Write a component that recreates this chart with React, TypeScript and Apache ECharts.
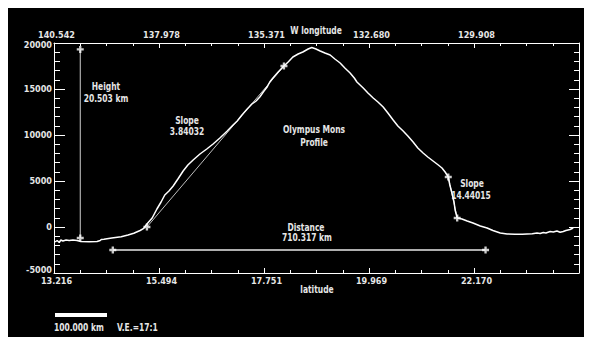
import React, { useEffect, useRef } from "react";
import * as echarts from "echarts";

// distance along profile (km) and elevation (m)
const profileDist = [2, 6, 10, 13, 17, 23, 29, 36, 44, 51, 67, 82, 88, 90, 95, 110, 128, 141, 152, 164, 171, 177, 187, 196, 204, 211, 219, 227, 236, 246, 255, 265, 278, 291, 303, 316, 330, 341, 349, 358, 368, 377, 385, 392, 400, 406, 411, 417, 427, 436, 446, 455, 465, 474, 484, 491, 499, 507, 516, 526, 535, 545, 554, 564, 572, 577, 583, 589, 598, 608, 617, 627, 636, 646, 655, 665, 674, 684, 693, 703, 712, 722, 732, 739, 745, 751, 754, 758, 762, 764, 766, 768, 777, 787, 798, 812, 825, 836, 850, 863, 878, 892, 901, 911, 920, 926, 932, 937, 945, 951, 958, 964, 970, 975, 983, 989];
const profileElev = [-1630, -1467, -1685, -1413, -1522, -1413, -1467, -1413, -1467, -1576, -1598, -1576, -1467, -1359, -1337, -1196, -1054, -870, -685, -380, -141, 326, 978, 1957, 2718, 3478, 3913, 4457, 5218, 6087, 6739, 7283, 7935, 8479, 9022, 9674, 10435, 11087, 11522, 12174, 12827, 13370, 13696, 14131, 14783, 15218, 15762, 16196, 16849, 17392, 17936, 18479, 18805, 19023, 19349, 19512, 19349, 19131, 18914, 18696, 18262, 17827, 17283, 16740, 16196, 15762, 15435, 15109, 14566, 14022, 13588, 13044, 12392, 11631, 10979, 10435, 9892, 9240, 8587, 8044, 7609, 7174, 6739, 6413, 5979, 5435, 4565, 3696, 2718, 1848, 1413, 978, 870, 652, 435, 109, -109, -380, -652, -761, -783, -783, -761, -739, -652, -707, -598, -652, -489, -543, -435, -576, -489, -380, -272, -109];

const bottomLabels = ["13.216", "15.494", "17.751", "19.969", "22.170", ""];
const topLabels = ["140.542", "137.978", "135.371", "132.680", "129.908", ""];

const heightLine = [[50, -1200], [50, 19300]];
const slope1Line = [[177, 0], [438, 17500]];
const slope2Line = [[751, 5435], [768, 978]];
const distanceLine = [[112, -2500], [822, -2500]];

const FONT = "'Liberation Sans Narrow','DejaVu Sans Condensed','Liberation Sans',sans-serif";
const TXT = "#e6e6e6";

export default function App() {
  const ref = useRef<HTMLDivElement>(null);
  useEffect(() => {
    if (!ref.current) return;
    const chart = echarts.init(ref.current, undefined, { renderer: "svg" });
    const axisLine = { show: true, onZero: false, lineStyle: { color: "#fff", width: 1 } };
    const axisCommon = {
      type: "value" as const,
      min: 0,
      max: 1000,
      interval: 200,
      axisLine,
      splitLine: { show: false },
    };
    const yCommon = {
      type: "value" as const,
      min: -5000,
      max: 20000,
      interval: 5000,
      axisLine,
      splitLine: { show: false },
      axisTick: { show: true, inside: true, length: 11, lineStyle: { color: "#fff" } },
      minorTick: { show: true, splitNumber: 5, length: 6, lineStyle: { color: "#fff" } },
    };
    const labelStyle = { color: TXT, fontFamily: FONT, fontWeight: "bold" as const, fontSize: 9 };
    const markerSeries = (pts: number[][]) => ({
      type: "scatter",
      data: pts,
      symbol: "path://M2,0H4V6H2Z M0,2H6V4H0Z",
      symbolSize: 7,
      itemStyle: { color: "#fff" },
      z: 5,
      silent: true,
    });
    const segSeries = (pts: number[][], color: string, width: number) => ({
      type: "line",
      data: pts,
      showSymbol: false,
      lineStyle: { color, width },
      z: 2,
      silent: true,
    });
    const txt = (text: string, x: number, y: number, align = "center") => ({
      type: "text",
      x,
      y,
      scaleX: 0.84,
      style: {
        text,
        fill: TXT,
        font: `bold 10px ${FONT}`,
        textAlign: align,
        textVerticalAlign: "middle",
      },
    });
    const rich = {
      top: { ...labelStyle, padding: [3, 0, 0, 0] },
      bot: { ...labelStyle, padding: [0, 0, 6, 0] },
    };
    chart.setOption({
      animation: false,
      backgroundColor: "#000",
      grid: { left: 46, top: 35, right: 13, bottom: 64, outerBoundsMode: "none" },
      xAxis: [
        {
          ...axisCommon,
          position: "bottom",
          axisTick: { show: true, inside: true, length: 5, lineStyle: { color: "#fff" } },
          minorTick: { show: true, splitNumber: 4, length: 3, lineStyle: { color: "#fff" } },
          axisLabel: {
            ...labelStyle,
            margin: 3,
            padding: [0, 0, 0, 5],
            showMaxLabel: true,
            showMinLabel: true,
            formatter: (v: number) => bottomLabels[Math.round(v / 200)] ?? "",
          },
        },
        {
          ...axisCommon,
          position: "top",
          axisTick: { show: true, inside: true, length: 5, lineStyle: { color: "#fff" } },
          minorTick: { show: true, splitNumber: 4, length: 3, lineStyle: { color: "#fff" } },
          axisLabel: {
            ...labelStyle,
            margin: 4,
            padding: [0, 0, 0, 5],
            showMaxLabel: true,
            showMinLabel: true,
            formatter: (v: number) => topLabels[Math.round(v / 200)] ?? "",
          },
        },
      ],
      yAxis: [
        {
          ...yCommon,
          position: "left",
          axisLabel: {
            ...labelStyle,
            margin: 2,
            showMinLabel: true,
            showMaxLabel: true,
            rich,
            formatter: (v: number) =>
              v === 20000 ? `{top|${v}}` : v === -5000 ? `{bot|${v}}` : String(v),
          },
        },
        {
          ...yCommon,
          position: "right",
          axisTick: { show: true, inside: true, length: 10, lineStyle: { color: "#fff" } },
          minorTick: { show: true, splitNumber: 5, length: 5, lineStyle: { color: "#fff" } },
          axisLabel: { show: false },
        },
      ],
      series: [
        segSeries(heightLine, "#cfcfcf", 1),
        segSeries(slope1Line, "#bdbdbd", 1),
        segSeries(slope2Line, "#bdbdbd", 1),
        segSeries(distanceLine, "#e8e8e8", 1.5),
        {
          type: "line",
          data: profileDist.map((d, i) => [d, profileElev[i]]),
          showSymbol: false,
          lineStyle: { color: "#fff", width: 1.5 },
          z: 3,
          silent: true,
        },
        markerSeries([...heightLine, ...slope1Line, ...slope2Line, ...distanceLine]),
      ],
      graphic: [
        txt("W longitude", 308, 22),
        txt("latitude", 309, 281),
        txt("Height", 98, 78),
        txt("20.503 km", 98, 90),
        txt("Slope", 179, 112),
        txt("3.84032", 179, 123),
        txt("Olympus Mons", 306, 121),
        txt("Profile", 306, 134),
        txt("Slope", 464, 175),
        txt("14.44015", 463, 187),
        txt("Distance", 298, 219),
        txt("710.317 km", 299, 229),
        { type: "rect", shape: { x: 47, y: 305, width: 52, height: 4 }, style: { fill: "#fff" } },
        txt("100.000 km", 46, 319, "left"),
        txt("V.E.=17:1", 109, 319, "left"),
      ],
    });
    return () => chart.dispose();
  }, []);
  return <div ref={ref} style={{ width: 584, height: 329 }} />;
}
